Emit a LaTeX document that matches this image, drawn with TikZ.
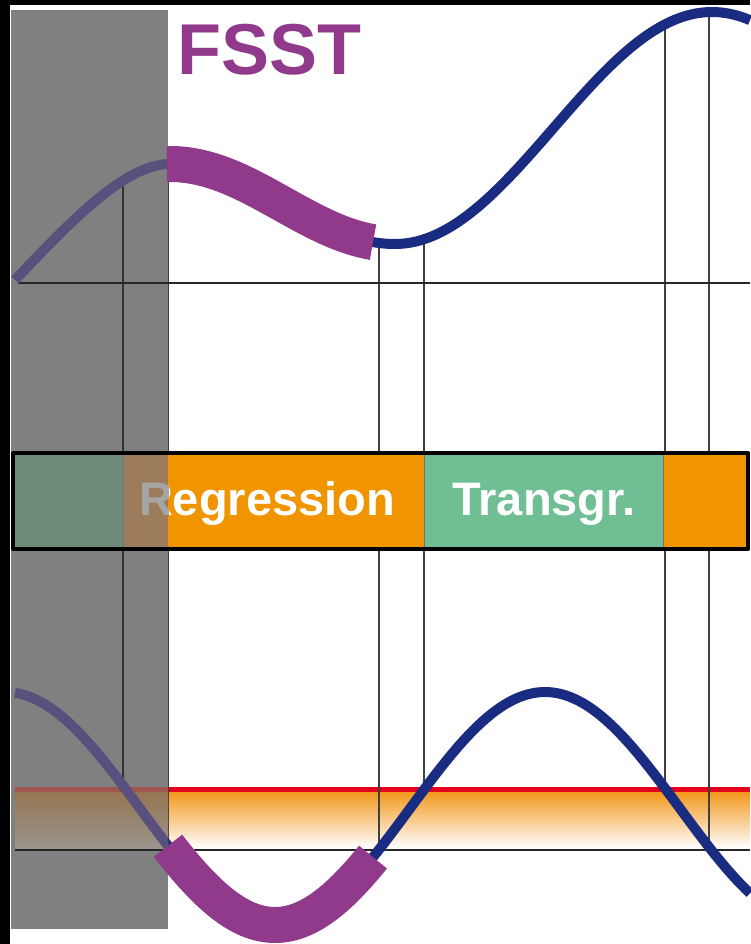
\documentclass[tikz,border=0pt]{standalone}
\usepackage{fontspec}
\setmainfont{Liberation Sans}
\begin{document}
\begin{tikzpicture}[x=1pt,y=-1pt,line join=round]
\definecolor{cblue}{RGB}{26,43,130}
\definecolor{cpurple}{RGB}{145,58,139}
\definecolor{corange}{RGB}{240,148,0}
\definecolor{cgreen}{RGB}{112,190,148}
\definecolor{cred}{RGB}{228,0,28}
\definecolor{cband}{RGB}{243,152,30}
\definecolor{cgray}{RGB}{128,128,128}
\definecolor{mblue}{RGB}{90,80,125}
\definecolor{mgreen}{RGB}{110,138,120}
\definecolor{morange}{RGB}{156,124,90}
\definecolor{mred}{RGB}{160,85,80}
\definecolor{mband}{RGB}{150,118,82}
\definecolor{mbandb}{RGB}{152,148,140}
\definecolor{mtext}{RGB}{165,165,165}
\tikzset{
  vline/.style={draw=black!75,line width=1.8pt},
  axisline/.style={draw=black!85,line width=2.5pt},
  redline/.style={draw=cred,line width=5pt},
  bluecurve/.style={draw=cblue,line width=10pt},
  mutedcurve/.style={draw=mblue,line width=10pt},
  thickpart/.style={draw=cpurple,line width=36pt},
  seg/.style={draw=black!55,line width=0.8pt},
  barframe/.style={draw=black,line width=4pt},
  bartext/.style={text=white,font=\bfseries\fontsize{47}{47}\selectfont,anchor=base,inner sep=0pt}
}
\useasboundingbox (0,0) rectangle (750,944);
\fill[black] (0,0) rectangle (750,944);
\fill[white] (10,5) rectangle (750,944);

% lower band
\shade[top color=cband,bottom color=white] (15,792) rectangle (750,848);
\draw[redline] (15,789.5) -- (750,789.5);

% vertical marker lines
\foreach \xx/\ya/\yb in {123/183/786,168/165/846,379/243/850,424/243/790,665/24/788,709/12/847}
  \draw[vline] (\xx,\ya) -- (\xx,\yb);

% axes
\draw[axisline] (18,283) -- (750,283);
\draw[axisline] (15,850) -- (750,850);

% bar
\fill[cgreen,seg] (13,453) rectangle (123,549);
\fill[corange,seg] (123,453) rectangle (424,549);
\fill[cgreen,seg] (424,453) rectangle (663,549);
\fill[corange,seg] (663,453) rectangle (748,549);
\draw[barframe] (13,453) rectangle (748,549);
\node[bartext] (reg) at (267,515) {Regression};
\node[bartext] (trans) at (544,515) {Transgr.};

% curves
\draw[bluecurve] (15,280) .. controls (70,222) and (125,164) .. (170,164)
  -- plot[domain=170:395,samples=60] (\x,{204-40*cos((\x-170)*0.8)})
  -- plot[domain=395:750,samples=90] (\x,{128+116*cos((\x-395)*0.567823)});
\draw[bluecurve] plot[domain=15:750,samples=160] (\x,{808.5+116.5*cos((\x-275)*0.666667)});

% gray overlay
\begin{scope}
\clip (11,10) rectangle (168,929);
\fill[cgray] (11,10) rectangle (168,929);
\shade[top color=mband,bottom color=mbandb] (15,792) rectangle (168,848);
\draw[redline,draw=mred] (15,789.5) -- (168,789.5);
\draw[vline,draw=black!80] (123,183) -- (123,786);
\draw[axisline] (18,283) -- (168,283);
\draw[axisline] (15,850) -- (168,850);
\fill[mgreen] (13,453) rectangle (123,549);
\fill[morange] (123,453) rectangle (168,549);
\draw[seg] (123,453) -- (123,549);
\draw[barframe] (13,453) rectangle (748,549);
\node[bartext,text=mtext] (regm) at (267,515) {Regression};
\draw[mutedcurve] (15,280) .. controls (70,222) and (125,164) .. (170,164);
\draw[mutedcurve] plot[domain=15:172,samples=60] (\x,{808.5+116.5*cos((\x-275)*0.666667)});
\end{scope}

% highlighted parts
\draw[thickpart] plot[domain=167:373,samples=60] (\x,{204-40*cos((\x-170)*0.8)});
\draw[thickpart] plot[domain=168:373,samples=60] (\x,{808.5+116.5*cos((\x-275)*0.666667)});

\node[anchor=base west,inner sep=0pt,text=cpurple,font=\bfseries\fontsize{72}{72}\selectfont] (title) at (177,75) {FSST};
\end{tikzpicture}
\end{document}
